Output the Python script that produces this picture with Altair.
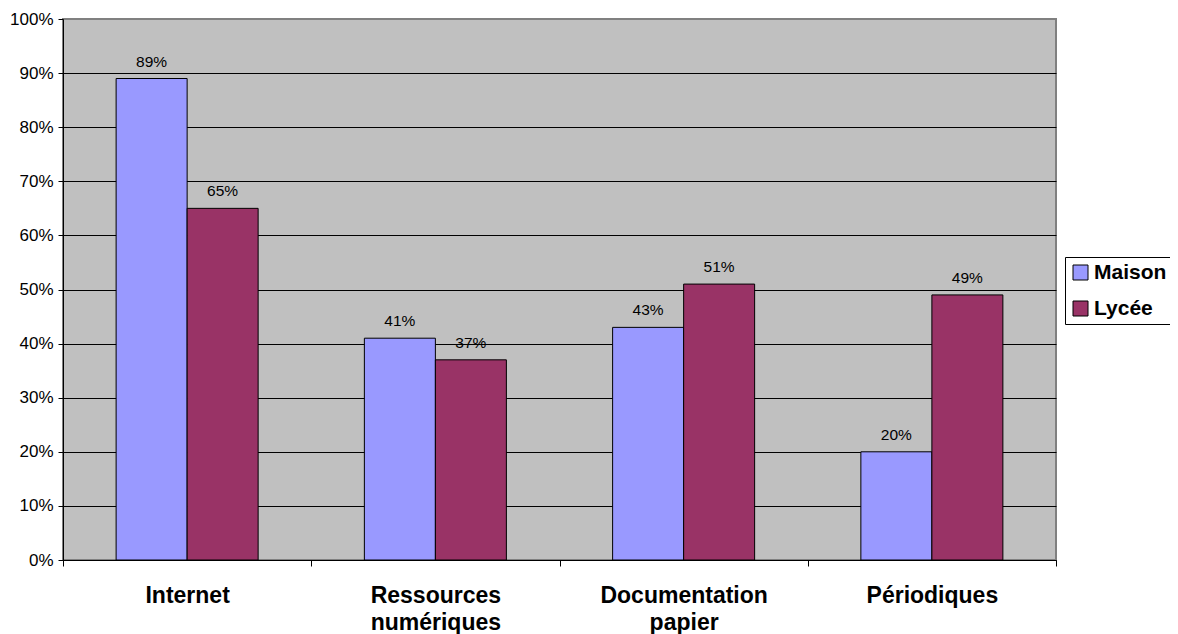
import altair as alt
import pandas as pd

categories = ["Internet", "Ressources numériques", "Documentation papier", "Périodiques"]
series = ["Maison", "Lycée"]
maison = [0.89, 0.41, 0.43, 0.20]
lycee = [0.65, 0.37, 0.51, 0.49]
colors = ["#9999FF", "#993366"]

rows = []
for i, c in enumerate(categories):
    rows.append({"cat": c, "serie": "Maison", "value": maison[i]})
    rows.append({"cat": c, "serie": "Lycée", "value": lycee[i]})
df = pd.DataFrame(rows)

FONT = "Liberation Sans"
W, H = 993, 541

x = alt.X(
    "cat:N",
    sort=categories,
    title=None,
    scale=alt.Scale(paddingInner=0, paddingOuter=0),
    axis=alt.Axis(
        labelAngle=0,
        labelExpr="split(datum.label, ' ')",
        labelFont=FONT,
        labelFontSize=23,
        labelFontWeight="bold",
        labelColor="black",
        labelLineHeight=27,
        labelPadding=18,
        labelBaseline="top",
        tickBand="extent",
        tickSize=6,
        tickColor="black",
        domainColor="black",
        grid=False,
    ),
)
xo = alt.XOffset("serie:N", sort=series, scale=alt.Scale(paddingInner=0, paddingOuter=0.748))
y = alt.Y(
    "value:Q",
    title=None,
    scale=alt.Scale(domain=[0, 1], nice=False),
    axis=alt.Axis(
        format=".0%",
        values=[i / 10 for i in range(11)],
        labelFont=FONT,
        labelFontSize=17,
        labelColor="black",
        labelPadding=5,
        tickSize=5,
        tickColor="black",
        domainColor="black",
        grid=True,
        gridColor={"condition": {"test": "datum.value >= 1", "value": "#808080"}, "value": "black"},
        gridWidth=1,
    ),
)

bars = alt.Chart(df).mark_bar(stroke="black", strokeWidth=1).encode(
    x=x,
    xOffset=xo,
    y=y,
    color=alt.Color(
        "serie:N",
        sort=series,
        scale=alt.Scale(domain=series, range=colors),
        legend=alt.Legend(
            title=None,
            orient="none",
            legendX=1002,
            legendY=238,
            direction="vertical",
            symbolType="square",
            symbolSize=225,
            symbolStrokeColor="black",
            symbolStrokeWidth=1,
            symbolOpacity=1,
            labelFont=FONT,
            labelFontSize=21,
            labelFontWeight="bold",
            labelColor="black",
            labelOffset=3,
            rowPadding=14,
            padding=5,
            strokeColor="black",
            fillColor="white",
        ),
    ),
)

labels = alt.Chart(df).mark_text(
    font=FONT, fontSize=15.5, color="black", baseline="alphabetic", dy=-12
).encode(
    x=x,
    xOffset=xo,
    y=alt.Y("value:Q"),
    text=alt.Text("value:Q", format=".0%"),
)

chart = (
    alt.layer(bars, labels)
    .properties(
        width=W,
        height=H,
        background="white",
        autosize=alt.AutoSizeParams(type="none"),
        padding={"left": 55, "top": 11, "right": 114, "bottom": 74},
    )
    .configure_view(fill="#C0C0C0", stroke="#808080", strokeWidth=2)
)

chart.save("out.html", embed_options={"renderer": "svg", "actions": False})
